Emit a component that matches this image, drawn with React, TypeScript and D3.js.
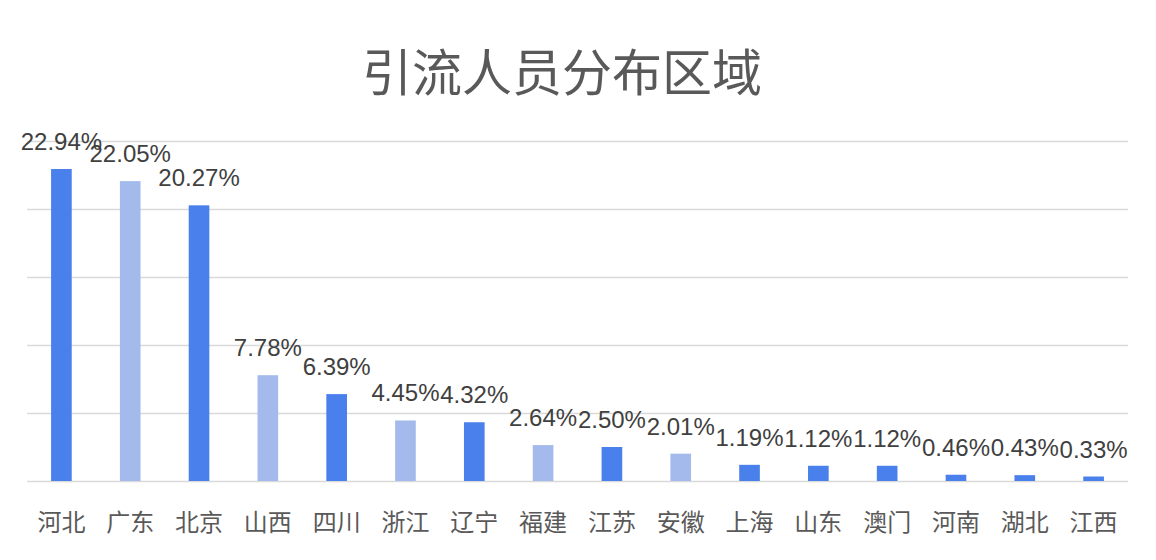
import React, { useEffect, useRef } from 'react'
import * as d3 from 'd3'

const title = '引流人员分布区域'
const regions = ['河北', '广东', '北京', '山西', '四川', '浙江', '辽宁', '福建', '江苏', '安徽', '上海', '山东', '澳门', '河南', '湖北', '江西']
const shares = [22.94, 22.05, 20.27, 7.78, 6.39, 4.45, 4.32, 2.64, 2.50, 2.01, 1.19, 1.12, 1.12, 0.46, 0.43, 0.33]
// which bars are drawn in the pale tone
const paleBars = ['广东', '山西', '浙江', '福建', '安徽']
const yTicks = [0, 5, 10, 15, 20, 25]

const W = 1156
const H = 560
const FONT = "'Liberation Sans', Arial, Helvetica, 'Noto Sans CJK SC', sans-serif"

export default function App() {
  const ref = useRef<SVGSVGElement>(null)

  useEffect(() => {
    const svg = d3.select(ref.current)
    svg.selectAll('*').remove()

    const margin = { top: 141, right: 28, bottom: 79, left: 27 }
    const width = W - margin.left - margin.right
    const height = H - margin.top - margin.bottom

    svg.append('text')
      .attr('x', 562)
      .attr('y', 91)
      .attr('text-anchor', 'middle')
      .style('font-family', FONT)
      .style('font-size', '50px')
      .style('fill', '#595959')
      .text(title)

    const g = svg.append('g')
      .attr('transform', 'translate(' + margin.left + ',' + margin.top + ')')

    const x = d3.scaleBand()
      .domain(regions)
      .range([0, width])
      .paddingInner(0.7)
      .paddingOuter(0.35)

    const y = d3.scaleLinear()
      .domain([0, 25])
      .range([height, 0])

    // gridlines
    g.selectAll('.grid')
      .data(yTicks)
      .enter().append('line')
      .attr('class', 'grid')
      .attr('x1', 0)
      .attr('x2', width)
      .attr('y1', d => Math.round(y(d)) + 0.5)
      .attr('y2', d => Math.round(y(d)) + 0.5)
      .attr('stroke', '#d9d9d9')
      .attr('stroke-width', 1.5)

    g.selectAll('.bar')
      .data(regions)
      .enter().append('rect')
      .attr('class', 'bar')
      .attr('x', d => x(d)!)
      .attr('width', x.bandwidth())
      .attr('y', (d, i) => y(shares[i]))
      .attr('height', (d, i) => height - y(shares[i]))
      .attr('fill', d => paleBars.includes(d) ? '#a4baec' : '#4a80ec')

    g.selectAll('.label')
      .data(regions)
      .enter().append('text')
      .attr('class', 'label')
      .attr('x', d => x(d)! + x.bandwidth() / 2)
      .attr('y', (d, i) => y(shares[i]) - 19)
      .attr('text-anchor', 'middle')
      .style('font-family', FONT)
      .style('font-size', '24px')
      .style('fill', '#404040')
      .text((d, i) => shares[i].toFixed(2) + '%')

    const xAxis = d3.axisBottom(x).tickSize(0).tickPadding(33)
    g.append('g')
      .attr('transform', 'translate(0,' + height + ')')
      .call(xAxis)
      .call(a => a.select('.domain').remove())
      .selectAll('text')
      .style('font-family', FONT)
      .style('font-size', '24px')
      .style('fill', '#595959')
  }, [])

  return (
    <svg ref={ref} width={W} height={H} style={{ position: 'absolute', left: 0, top: 0, background: '#fff' }} />
  )
}
